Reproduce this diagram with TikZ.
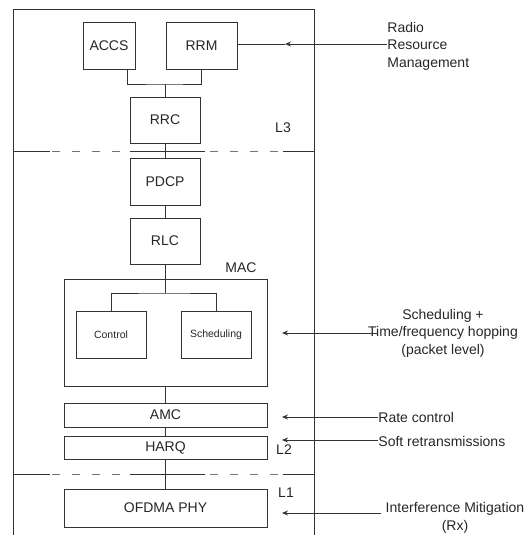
\documentclass[tikz,border=0pt]{standalone}
\usepackage{fontspec}
\setmainfont{Liberation Sans}
\usetikzlibrary{arrows.meta,calc}
\begin{document}
\begin{tikzpicture}[x=1pt,y=-1pt,
  line width=0.9pt, draw={black!80},
  every node/.style={font=\fontsize{14}{17.5}\selectfont, text=black!85},
  blk/.style={draw, inner sep=0pt, minimum width=70pt, minimum height=47pt},
  small/.style={font=\fontsize{10.5}{12}\selectfont},
  arr/.style={-{Stealth[length=6pt,width=5pt]}},
  sol/.style={line width=0.9pt},
  dsh/.style={line width=0.9pt, draw=black!55, dash pattern=on 8pt off 12pt},
  lay/.style={inner sep=0pt}
]
\useasboundingbox (0,0) rectangle (530,535);
% outer frame
\draw (13,535) -- (13,9) -- (314,9) -- (314,535);
% layer separators
\foreach \yy in {151,474}{
  \draw[sol] (13,\yy) -- (50,\yy);
  \draw[dsh] (52,\yy) -- (130,\yy);
  \draw[sol] (130,\yy) -- (205,\yy);
  \draw[dsh] (210,\yy) -- (283,\yy);
  \draw[sol] (283,\yy) -- (314,\yy);
}
% blocks
\node[blk, minimum width=52pt] (ACCS) at (109,45.5) {ACCS};
\node[blk, minimum width=71pt] (RRM) at (201.5,45.5) {RRM};
\node[blk, minimum height=46pt] (RRC) at (165,120) {RRC};
\node[blk] (PDCP) at (165,181.5) {PDCP};
\node[blk, minimum height=46pt] (RLC) at (165,241) {RLC};
\node[blk, minimum width=203pt, minimum height=107pt] (MAC) at (165.5,332.5) {};
\node[blk, small] (CTRL) at (111,334.5) {Control};
\node[blk, small] (SCHED) at (216,334.5) {Scheduling};
\node[blk, minimum width=203pt, minimum height=24pt] (AMC) at (165.5,415) {AMC};
\node[blk, minimum width=203pt, minimum height=23pt] (HARQ) at (165.5,447.5) {HARQ};
\node[blk, minimum width=203pt, minimum height=38pt] (PHY) at (165.5,508) {OFDMA PHY};
% layer labels
\node[lay] (L3) at (283,128) {L3};
\node[lay] (MACl) at (241,268) {MAC};
\node[lay] (L2) at (284,450) {L2};
\node[lay] (L1) at (286,493) {L1};
% connectors
\coordinate (j1) at (165,84);
\draw ([xshift=18pt]ACCS.south) |- (j1) -| (RRM.south);
\draw (j1) -- (RRC.north);
\draw (RRC.south) -- (PDCP.north);
\draw (PDCP.south) -- (RLC.north);
\coordinate (j2) at (165,293);
\draw (RLC.south) -- (j2);
\draw (CTRL.north) |- (j2) -| (SCHED.north);
\draw (MAC.south) -- (AMC.north);
\draw (AMC.south) -- (HARQ.north);
\draw (HARQ.south) -- (PHY.north);
% right-hand annotations
\node[lay, align=left, anchor=west] (rrmtxt) at (387,46) {Radio\\Resource\\Management};
\coordinate (a1) at (387,44);
\coordinate (t1) at (285,44);
\draw[arr] (a1) -- (t1);
\draw (t1) -- (RRM.east |- t1);

\node[lay, align=center] (schtxt) at (443,333) {Scheduling +\\Time/frequency hopping\\(packet level)};
\coordinate (a2) at (378,333);
\coordinate (t2) at (282,333);
\draw[arr] (a2) -- (t2);

\node[lay, anchor=west] (rctxt) at (378,417) {Rate control};
\coordinate (t3) at (282,417);
\draw[arr] (rctxt.west) -- (t3);

\node[lay, anchor=west] (srtxt) at (378,441) {Soft retransmissions};
\coordinate (a4) at (378,440);
\coordinate (t4) at (282,440);
\draw[arr] (a4) -- (t4);

\node[lay, align=center] (imtxt) at (455,518) {Interference Mitigation\\(Rx)};
\coordinate (a5) at (381,513);
\coordinate (t5) at (282,513);
\draw[arr] (a5) -- (t5);
\end{tikzpicture}
\end{document}
